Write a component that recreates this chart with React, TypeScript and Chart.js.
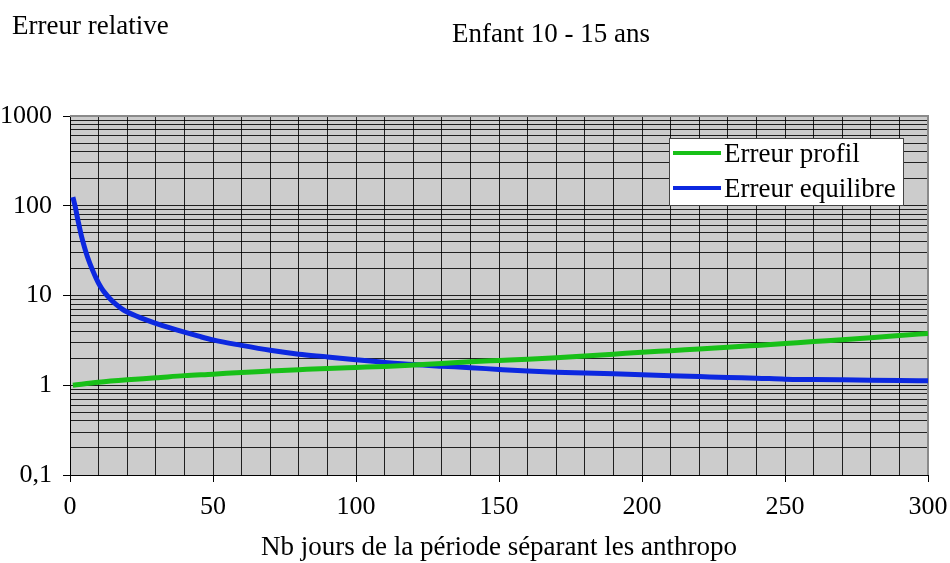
import React, { useEffect, useRef } from 'react';
import { Chart, registerables } from 'chart.js';

Chart.register(...registerables);

const TITLE = 'Enfant 10 - 15 ans';
const Y_TITLE = 'Erreur relative';
const X_TITLE = 'Nb jours de la période séparant les anthropo';
const SERIES_NAMES = ['Erreur profil', 'Erreur equilibre'];
const SERIES_COLORS = ['#18c018', '#0c28e0'];

const profilDays = [1, 10, 20, 30, 40, 50, 60, 70, 80, 90, 100, 110, 120, 130, 140, 150, 160, 170, 180, 190, 200, 210, 220, 230, 240, 250, 260, 270, 280, 290, 300];
const profilValues = [1.0, 1.08, 1.15, 1.21, 1.28, 1.33, 1.39, 1.44, 1.49, 1.54, 1.58, 1.62, 1.68, 1.75, 1.83, 1.89, 1.95, 2.03, 2.12, 2.22, 2.33, 2.43, 2.54, 2.65, 2.78, 2.92, 3.07, 3.22, 3.39, 3.58, 3.78];

const equilibreDays = [1, 1.5, 2, 2.5, 3, 3.5, 4, 5, 6, 7, 8, 9, 10, 11, 12, 14, 16, 18, 20, 25, 30, 35, 40, 45, 50, 60, 70, 80, 90, 100, 110, 120, 130, 140, 150, 160, 170, 180, 190, 200, 210, 220, 230, 240, 250, 260, 270, 280, 290, 300];
const equilibreValues = [125, 108, 92, 76, 64, 54, 46, 35, 27.5, 22.5, 18.8, 15.9, 13.7, 12.1, 10.9, 9.2, 8.0, 7.15, 6.55, 5.6, 4.9, 4.35, 3.9, 3.52, 3.2, 2.78, 2.45, 2.22, 2.07, 1.92, 1.8, 1.7, 1.63, 1.57, 1.5, 1.44, 1.4, 1.37, 1.34, 1.31, 1.28, 1.25, 1.22, 1.2, 1.17, 1.16, 1.15, 1.14, 1.13, 1.12];

const yMajorTicks = [0.1, 1, 10, 100, 1000];
const yMajorLabels = ['0,1', '1', '10', '100', '1000'];
const xMajorStep = 50;
const xMinorStep = 10;
const xMin = 0;
const xMax = 300;

const FONT_FAMILY = '"Liberation Serif", "Times New Roman", serif';
const TICK_FONT_SIZE = 26;
const TEXT_FONT_SIZE = 27;

function buildYTicks() {
  const vals: number[] = [];
  for (let d = 0; d < yMajorTicks.length - 1; d++) {
    for (let m = 1; m <= 9; m++) {
      vals.push(Number((m * yMajorTicks[d]).toPrecision(6)));
    }
  }
  vals.push(yMajorTicks[yMajorTicks.length - 1]);
  return vals;
}

const isYMajor = (v: number) => yMajorTicks.some((t) => Math.abs(t - v) < 1e-9 * Math.max(1, t));

const decorPlugin = {
  id: 'decor',
  beforeDraw(chart: any) {
    const { ctx, chartArea } = chart;
    ctx.save();
    ctx.fillStyle = '#ffffff';
    ctx.fillRect(0, 0, chart.width, chart.height);
    ctx.fillStyle = '#cccccc';
    ctx.fillRect(chartArea.left, chartArea.top, chartArea.right - chartArea.left, chartArea.bottom - chartArea.top);
    ctx.restore();
  },
  beforeDatasetsDraw(chart: any) {
    const { ctx, chartArea } = chart;
    ctx.save();
    ctx.strokeStyle = '#8a8a8a';
    ctx.lineWidth = 2;
    ctx.beginPath();
    ctx.moveTo(chartArea.left, chartArea.top);
    ctx.lineTo(chartArea.right, chartArea.top);
    ctx.lineTo(chartArea.right, chartArea.bottom);
    ctx.stroke();
    ctx.restore();
  },
  afterDraw(chart: any) {
    const { ctx, chartArea } = chart;
    ctx.save();
    ctx.fillStyle = '#000';
    ctx.font = `${TEXT_FONT_SIZE}px ${FONT_FAMILY}`;
    ctx.textBaseline = 'alphabetic';
    ctx.textAlign = 'left';
    ctx.fillText(Y_TITLE, 12, 34);
    ctx.fillText(TITLE, 452, 42);
    ctx.textAlign = 'center';
    ctx.fillText(X_TITLE, (chartArea.left + chartArea.right) / 2, 555);

    // legend
    const lx = 669.5, ly = 138.5, lw = 234, lh = 67;
    ctx.fillStyle = '#ffffff';
    ctx.fillRect(lx, ly, lw, lh);
    ctx.strokeStyle = '#444';
    ctx.lineWidth = 1;
    ctx.strokeRect(lx, ly, lw, lh);
    const rows = [153, 188];
    SERIES_NAMES.forEach((name, i) => {
      ctx.strokeStyle = SERIES_COLORS[i];
      ctx.lineWidth = 4;
      ctx.beginPath();
      ctx.moveTo(673, rows[i]);
      ctx.lineTo(721, rows[i]);
      ctx.stroke();
      ctx.fillStyle = '#000';
      ctx.textAlign = 'left';
      ctx.fillText(name, 724, rows[i] + 9);
    });
    ctx.restore();
  },
};

export default function App() {
  const ref = useRef<HTMLCanvasElement | null>(null);

  useEffect(() => {
    if (!ref.current) return;
    const yTicks = buildYTicks();
    const chart = new Chart(ref.current, {
      type: 'line',
      data: {
        datasets: [
          {
            label: SERIES_NAMES[0],
            data: profilDays.map((x, i) => ({ x, y: profilValues[i] })),
            borderColor: SERIES_COLORS[0],
            borderWidth: 5,
            pointRadius: 0,
            cubicInterpolationMode: 'monotone',
            fill: false,
          },
          {
            label: SERIES_NAMES[1],
            data: equilibreDays.map((x, i) => ({ x, y: equilibreValues[i] })),
            borderColor: SERIES_COLORS[1],
            borderWidth: 5,
            pointRadius: 0,
            cubicInterpolationMode: 'monotone',
            fill: false,
          },
        ],
      },
      options: {
        animation: false,
        responsive: false,
        maintainAspectRatio: false,
        layout: { padding: { left: 0, right: 22, top: 116, bottom: 0 } },
        plugins: { legend: { display: false }, tooltip: { enabled: false }, title: { display: false } },
        scales: {
          x: {
            type: 'linear',
            min: xMin,
            max: xMax,
            afterFit: (s: any) => {
              s.height = 88;
              s.paddingLeft = 0;
              s.paddingRight = 0;
            },
            afterBuildTicks: (s: any) => {
              const t = [];
              for (let v = xMin; v <= xMax; v += xMinorStep) t.push({ value: v });
              s.ticks = t;
            },
            ticks: {
              autoSkip: false,
              maxRotation: 0,
              padding: 10,
              color: '#000',
              font: { family: FONT_FAMILY, size: TICK_FONT_SIZE },
              callback: (v: any) => (Number(v) % xMajorStep === 0 ? String(v) : ''),
            },
            grid: {
              color: 'rgba(0,0,0,0.85)',
              lineWidth: 1,
              tickLength: 7,
              tickColor: (c: any) => (c.tick && c.tick.value % xMajorStep === 0 ? '#000' : 'rgba(0,0,0,0)'),
            },
            border: { display: true, color: '#000', width: 1 },
          },
          y: {
            type: 'logarithmic',
            min: yMajorTicks[0],
            max: yMajorTicks[yMajorTicks.length - 1],
            afterFit: (s: any) => {
              s.width = 70;
              s.paddingTop = 0;
              s.paddingBottom = 0;
            },
            afterBuildTicks: (s: any) => {
              s.ticks = yTicks.map((v) => ({ value: v, major: isYMajor(v) }));
            },
            ticks: {
              autoSkip: false,
              padding: 11,
              color: '#000',
              font: { family: FONT_FAMILY, size: TICK_FONT_SIZE },
              callback: (v: any) => {
                const idx = yMajorTicks.findIndex((t) => Math.abs(t - Number(v)) < 1e-9 * Math.max(1, t));
                return idx >= 0 ? yMajorLabels[idx] : '';
              },
            },
            grid: {
              color: 'rgba(0,0,0,0.85)',
              lineWidth: 1,
              tickLength: 7,
              tickColor: (c: any) => (c.tick && isYMajor(c.tick.value) ? '#000' : 'rgba(0,0,0,0)'),
            },
            border: { display: true, color: '#000', width: 1 },
          },
        },
      },
      plugins: [decorPlugin],
    } as any);
    return () => chart.destroy();
  }, []);

  return (
    <div style={{ position: 'fixed', left: 0, top: 0, width: 950, height: 563 }}>
      <canvas ref={ref} width={950} height={563} style={{ display: 'block', width: 950, height: 563 }} />
    </div>
  );
}
